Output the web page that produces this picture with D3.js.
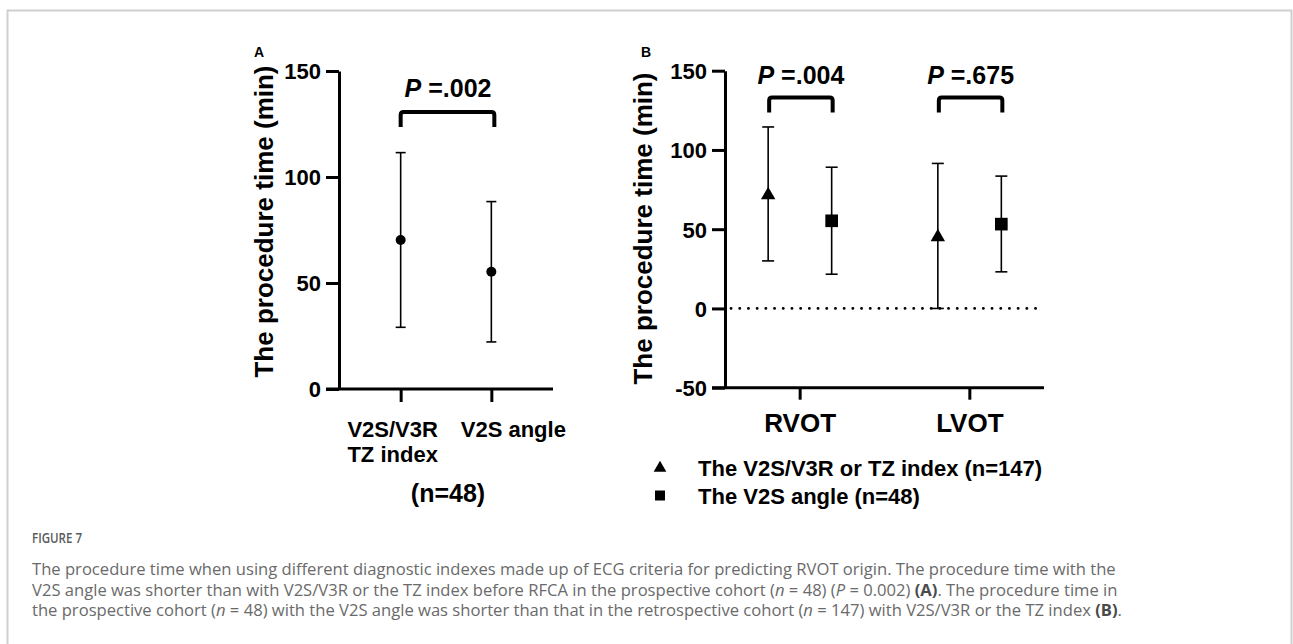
<!DOCTYPE html>
<html>
<head>
<meta charset="utf-8">
<script src="https://cdn.jsdelivr.net/npm/d3@7"></script>
<style>
  body { margin: 0; background: #fff; }
  svg { display: block; }
  .bold { font-family: "Liberation Sans", Arial, sans-serif; font-weight: bold; fill: #000; }
  .cap { font-family: "Open Sans", "Noto Sans", sans-serif; fill: #6a6a6a; }
</style>
</head>
<body>
<div id="chart"></div>
<script>
// panel A - prospective cohort (n=48)
var catsA = [["V2S/V3R", "TZ index"], ["V2S angle"]];
var meanA = [70.3, 55.3];
var lowA  = [29.1, 22.2];
var highA = [111.5, 88.4];
var ticksA = [0, 50, 100, 150];
var pA = "=.002";

// panel B - by origin site
var groupsB = ["RVOT", "LVOT"];
var seriesB = ["The V2S/V3R or TZ index (n=147)", "The V2S angle (n=48)"];
var meanB = [[71.5, 45.0], [55.3, 53.2]];
var lowB  = [[30.0, 0.0], [21.6, 23.1]];
var highB = [[114.5, 91.5], [89.1, 83.5]];
var ticksB = [-50, 0, 50, 100, 150];
var pB = ["=.004", "=.675"];

var W = 1293, H = 644;
var svg = d3.select("#chart").append("svg")
    .attr("width", W)
    .attr("height", H);

// frame of the figure box
svg.append("rect")
    .attr("x", 7.5).attr("y", 10.5)
    .attr("width", 1284).attr("height", 700)
    .attr("fill", "none")
    .attr("stroke", "#cfcfcf")
    .attr("stroke-width", 2);

function bracket(g, x1, x2, yTop, yBot) {
  var r = 3;
  g.append("path")
      .attr("d", "M" + x1 + "," + yBot + "V" + (yTop + r) + "Q" + x1 + "," + yTop + " " + (x1 + r) + "," + yTop +
                 "H" + (x2 - r) + "Q" + x2 + "," + yTop + " " + x2 + "," + (yTop + r) + "V" + yBot)
      .attr("fill", "none")
      .attr("stroke", "#000")
      .attr("stroke-width", 4);
}

function pText(g, x, y, val) {
  var t = g.append("text")
      .attr("class", "bold")
      .attr("x", x).attr("y", y)
      .attr("text-anchor", "middle")
      .style("font-size", "25px");
  t.append("tspan").style("font-style", "italic").text("P");
  t.append("tspan").text(" " + val);
}

function errbar(g, x, yLo, yHi, capW) {
  g.append("line").attr("x1", x).attr("x2", x).attr("y1", yLo).attr("y2", yHi)
      .attr("stroke", "#000").attr("stroke-width", 1.6);
  [yLo, yHi].forEach(function(yy) {
    g.append("line").attr("x1", x - capW / 2).attr("x2", x + capW / 2).attr("y1", yy).attr("y2", yy)
        .attr("stroke", "#000").attr("stroke-width", 1.6);
  });
}

function styleAxis(ax) {
  ax.select(".domain").attr("stroke", "#000").attr("stroke-width", 3);
  ax.selectAll(".tick line").attr("stroke", "#000").attr("stroke-width", 3);
  ax.selectAll(".tick text").attr("class", "bold").attr("fill", "#000");
}

var plain = function(d) { return String(d); };

// ---------- panel A ----------
var yA = d3.scaleLinear().domain([0, 150]).range([389, 71]);
var xA = d3.scalePoint().domain(d3.range(catsA.length)).range([339, 553]).padding(0.68);

var gA = svg.append("g");

var yAxA = gA.append("g")
    .attr("transform", "translate(339,0)")
    .call(d3.axisLeft(yA).tickValues(ticksA).tickFormat(plain).tickSize(13).tickSizeOuter(0).tickPadding(5));
styleAxis(yAxA);
yAxA.selectAll(".tick text").style("font-size", "22px").attr("dy", "0.36em");

var xAxA = gA.append("g")
    .attr("transform", "translate(0,389)")
    .call(d3.axisBottom(xA).tickSize(13).tickSizeOuter(0).tickFormat(""));
styleAxis(xAxA);
xAxA.select(".domain").attr("d", "M326,0H553");

var labOffA = [-8, 22];
catsA.forEach(function(lines, i) {
  var t = gA.append("text")
      .attr("class", "bold")
      .attr("text-anchor", "middle")
      .style("font-size", "22px");
  lines.forEach(function(s, j) {
    t.append("tspan").attr("x", xA(i) + labOffA[i]).attr("y", 437 + j * 25).text(s);
  });
});

gA.append("text")
    .attr("class", "bold")
    .attr("x", 448).attr("y", 502)
    .attr("text-anchor", "middle")
    .style("font-size", "25px")
    .text("(n=48)");

gA.append("text")
    .attr("class", "bold")
    .attr("transform", "translate(272.5,221.5) rotate(-90)")
    .attr("text-anchor", "middle")
    .style("font-size", "26px")
    .text("The procedure time (min)");

gA.append("text")
    .attr("class", "bold")
    .attr("x", 259).attr("y", 56.5)
    .attr("text-anchor", "middle")
    .style("font-size", "14px")
    .text("A");

meanA.forEach(function(m, i) {
  errbar(gA, xA(i), yA(lowA[i]), yA(highA[i]), 10);
  gA.append("circle").attr("cx", xA(i)).attr("cy", yA(m)).attr("r", 5).attr("fill", "#000");
});

bracket(gA, xA(0), xA(1) + 3, 112, 127);
pText(gA, (xA(0) + xA(1)) / 2 + 2, 96.5, pA);

// ---------- panel B ----------
var yB = d3.scaleLinear().domain([-50, 150]).range([387.7, 70.7]);
var xB = d3.scalePoint().domain(groupsB).range([725, 1044]).padding(0.44);
var xS = d3.scalePoint().domain(d3.range(seriesB.length)).range([-31.5, 32]);

var gB = svg.append("g");

// dotted zero line
gB.append("line")
    .attr("x1", 731).attr("x2", 1041)
    .attr("y1", yB(0)).attr("y2", yB(0))
    .attr("stroke", "#000")
    .attr("stroke-width", 2.8)
    .attr("stroke-linecap", "round")
    .attr("stroke-dasharray", "0.1,8.6");

var yAxB = gB.append("g")
    .attr("transform", "translate(725,0)")
    .call(d3.axisLeft(yB).tickValues(ticksB).tickFormat(plain).tickSize(13).tickSizeOuter(0).tickPadding(5));
styleAxis(yAxB);
yAxB.selectAll(".tick text").style("font-size", "22px").attr("dy", "0.36em");

var xAxB = gB.append("g")
    .attr("transform", "translate(0,387.7)")
    .call(d3.axisBottom(xB).tickSize(12).tickSizeOuter(0).tickPadding(8));
styleAxis(xAxB);
xAxB.select(".domain").attr("d", "M712,0H1044");
xAxB.selectAll(".tick text").style("font-size", "26px").attr("dy", "0.95em");

gB.append("text")
    .attr("class", "bold")
    .attr("transform", "translate(651.5,228.5) rotate(-90)")
    .attr("text-anchor", "middle")
    .style("font-size", "26px")
    .text("The procedure time (min)");

gB.append("text")
    .attr("class", "bold")
    .attr("x", 646).attr("y", 56.5)
    .attr("text-anchor", "middle")
    .style("font-size", "14px")
    .text("B");

var symB = [d3.symbolTriangle, d3.symbolSquare];
var symSize = [90, 160];

seriesB.forEach(function(s, si) {
  groupsB.forEach(function(gname, gi) {
    var x = xB(gname) + xS(si);
    errbar(gB, x, yB(lowB[si][gi]), yB(highB[si][gi]), 12);
    gB.append("path")
        .attr("d", d3.symbol().type(symB[si]).size(symSize[si])())
        .attr("transform", "translate(" + x + "," + yB(meanB[si][gi]) + ")")
        .attr("fill", "#000");
  });
});

groupsB.forEach(function(gname, gi) {
  var x1 = xB(gname) + xS(0), x2 = xB(gname) + xS(1);
  bracket(gB, x1 + 1, x2 + 1, 97.5, 112.5);
  pText(gB, (x1 + x2) / 2 + 1, 83.5, pB[gi]);
});

// legend
var leg = gB.selectAll("g.leg")
    .data(seriesB)
  .enter().append("g")
    .attr("class", "leg")
    .attr("transform", function(d, i) { return "translate(660," + (468 + i * 27.5) + ")"; });

leg.append("path")
    .attr("d", function(d, i) { return d3.symbol().type(symB[i]).size(i ? 100 : 70)(); })
    .attr("fill", "#000");

leg.append("text")
    .attr("class", "bold")
    .attr("x", 38).attr("y", 8)
    .style("font-size", "22px")
    .text(function(d) { return d; });

// ---------- caption ----------
var cap = svg.append("g").attr("class", "cap");

cap.append("text")
    .attr("x", 32).attr("y", 543)
    .style("font-size", "14px")
    .style("font-weight", "600")
    .attr("fill", "#5a5a5a")
    .attr("textLength", 50)
    .attr("lengthAdjust", "spacingAndGlyphs")
    .text("FIGURE 7");

var capLines = [
  [["The procedure time when using different diagnostic indexes made up of ECG criteria for predicting RVOT origin. The procedure time with the", ""]],
  [["V2S angle was shorter than with V2S/V3R or the TZ index before RFCA in the prospective cohort (", ""], ["n", "i"], [" = 48) (", ""], ["P", "i"],
   [" = 0.002) ", ""], ["(A)", "b"], [". The procedure time in", ""]],
  [["the prospective cohort (", ""], ["n", "i"], [" = 48) with the V2S angle was shorter than that in the retrospective cohort (", ""], ["n", "i"],
   [" = 147) with V2S/V3R or the TZ index ", ""], ["(B)", "b"], [".", ""]]
];

capLines.forEach(function(parts, li) {
  var t = cap.append("text")
      .attr("x", 32).attr("y", 575 + li * 20.5)
      .style("font-size", "16.6px");
  parts.forEach(function(p) {
    var ts = t.append("tspan").text(p[0]);
    if (p[1] === "i") ts.style("font-style", "italic");
    if (p[1] === "b") ts.style("font-weight", "bold").attr("fill", "#4a4a4a");
  });
});
</script>
</body>
</html>
